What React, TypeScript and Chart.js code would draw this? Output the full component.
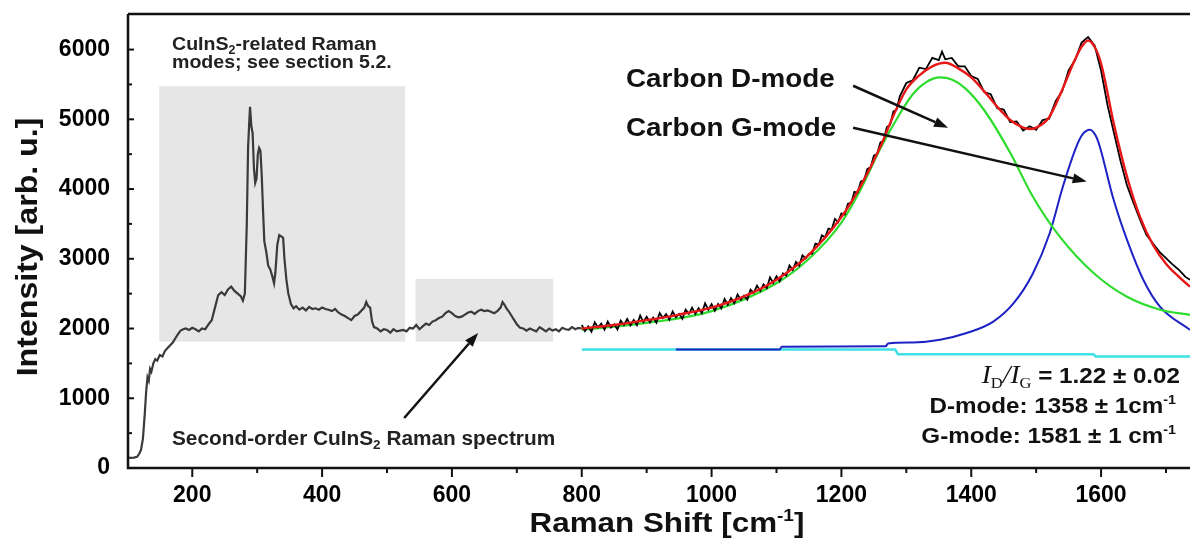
import React, { useEffect, useRef } from 'react';
import { Chart, registerables } from 'chart.js';

Chart.register(...registerables);

// ---------- axes ----------
const X_MIN = 101;
const X_MAX = 1737;
const Y_MIN = 0;
const Y_MAX = 6510;
const X_TICKS = [200, 400, 600, 800, 1000, 1200, 1400, 1600];
const X_MINOR = [300, 500, 700, 900, 1100, 1300, 1500, 1700];
const Y_TICKS = [0, 1000, 2000, 3000, 4000, 5000, 6000];
const Y_MINOR = [500, 1500, 2500, 3500, 4500, 5500];

// ---------- measured spectrum, low-wavenumber part (grey) ----------
const LOW_X = [100, 105, 110, 115, 118, 121, 124, 127, 129, 131,
  133, 135, 137, 140, 143, 146, 150, 154, 158, 162,
  166, 170, 174, 178, 182, 186, 190, 195, 200, 205,
  210, 215, 220, 225, 230, 235, 240, 245, 250, 255,
  260, 265, 270, 275, 278, 281, 284, 286, 288, 289,
  291, 293, 295, 297, 299, 301, 303, 305, 307, 309,
  311, 314, 317, 320, 323, 326, 328, 331, 334, 337,
  340, 342, 345, 348, 352, 356, 360, 365, 370, 375,
  380, 385, 390, 395, 400, 405, 410, 415, 420, 425,
  430, 435, 440, 445, 450, 455, 460, 465, 468, 471,
  474, 477, 480, 485, 490, 495, 500, 505, 510, 515,
  520, 525, 530, 535, 540, 545, 550, 555, 560, 565,
  570, 575, 580, 585, 590, 595, 600, 605, 610, 615,
  620, 625, 630, 635, 640, 645, 650, 655, 660, 665,
  670, 675, 678, 681, 684, 688, 692, 696, 700, 705,
  710, 715, 720, 725, 730, 735, 740, 745, 750, 755,
  760, 765, 770, 775, 780, 785, 790, 795, 800];
const LOW_Y = [150, 145, 150, 160, 200, 260, 420, 800, 1100, 1300,
  1250, 1420, 1380, 1500, 1560, 1540, 1620, 1600, 1680, 1720,
  1760, 1800, 1860, 1920, 1970, 1990, 2000, 1980, 2010, 1990,
  1960, 2000, 1990, 2060, 2120, 2300, 2480, 2520, 2480, 2560,
  2600, 2540, 2500, 2460, 2400, 2500, 3500, 4600, 5000, 5180,
  4900, 4800, 4300, 4090, 4150, 4500, 4590, 4550, 4200, 3700,
  3250, 3100, 2900, 2850, 2760, 2650, 2800, 3200, 3340, 3320,
  3300, 3000, 2700, 2500, 2350, 2290, 2320, 2270, 2300, 2260,
  2310, 2280, 2290, 2270, 2300, 2280, 2270, 2250, 2280, 2230,
  2200, 2180, 2150, 2120, 2180, 2200, 2250, 2300, 2380, 2320,
  2300, 2100, 2020, 2000, 1960, 1990, 1980, 1940, 1990, 1960,
  1970, 1980, 1960, 2010, 2000, 2050, 1990, 2030, 2070, 2050,
  2100, 2120, 2150, 2170, 2220, 2250, 2220, 2180, 2160, 2170,
  2200, 2230, 2240, 2210, 2250, 2270, 2250, 2260, 2240, 2220,
  2250, 2300, 2380, 2340, 2290, 2240, 2180, 2120, 2060, 2010,
  2000, 1970, 2000, 1980, 1960, 2020, 1990, 1960, 2000, 1970,
  1990, 1960, 2010, 1990, 1980, 2020, 1990, 2010, 2000];

// ---------- measured spectrum, carbon region (black) ----------
const SPEC_X = [800, 805, 810, 815, 820, 825, 830, 835, 840, 845,
  850, 855, 860, 865, 870, 875, 880, 885, 890, 895,
  900, 905, 910, 915, 920, 925, 930, 935, 940, 945,
  950, 955, 960, 965, 970, 975, 980, 985, 990, 995,
  1000, 1005, 1010, 1015, 1020, 1025, 1030, 1035, 1040, 1045,
  1050, 1055, 1060, 1065, 1070, 1075, 1080, 1085, 1090, 1095,
  1100, 1105, 1110, 1115, 1120, 1125, 1130, 1135, 1140, 1145,
  1150, 1155, 1160, 1165, 1170, 1175, 1180, 1185, 1190, 1195,
  1200, 1205, 1210, 1215, 1220, 1225, 1230, 1235, 1240, 1245,
  1250, 1255, 1260, 1265, 1270, 1275, 1280, 1285, 1290,
  1300, 1310, 1320, 1330, 1340, 1350, 1355,
  1360, 1370, 1380, 1390, 1400, 1410, 1420, 1430, 1440, 1450,
  1460, 1470, 1480, 1490, 1500, 1510, 1520, 1530, 1540, 1550,
  1560, 1570, 1580, 1590, 1600, 1610, 1620, 1630, 1640, 1650,
  1660, 1670, 1680, 1690, 1700, 1710, 1720, 1730, 1737];
const SPEC_Y = [2050, 1965, 2030, 1955, 2090, 2015, 2070, 1985, 2100, 2015,
  2060, 1987, 2114, 2051, 2138, 2045, 2122, 2049, 2186, 2093,
  2170, 2088, 2156, 2084, 2222, 2150, 2208, 2126, 2244, 2162,
  2210, 2140, 2270, 2210, 2300, 2210, 2290, 2220, 2360, 2270,
  2350, 2256, 2352, 2288, 2424, 2340, 2436, 2362, 2488, 2414,
  2470, 2414, 2558, 2512, 2616, 2540, 2634, 2578, 2732, 2656,
  2750, 2676, 2792, 2758, 2904, 2840, 2956, 2902, 3048, 3004,
  3070, 3074, 3218, 3202, 3336, 3310, 3434, 3418, 3572, 3526,
  3650, 3635, 3790, 3800, 3960, 3950, 4110, 4125, 4290, 4310,
  4480, 4502, 4665, 4697, 4890, 4920, 5110, 5140, 5330,
  5520, 5560, 5740, 5720, 5880, 5850, 5970,
  5860, 5880, 5760, 5760, 5620, 5580, 5390, 5360, 5160, 5140,
  4960, 4970, 4840, 4900, 4850, 4990, 5010, 5260, 5400, 5700,
  5850, 6100, 6180, 6060, 5700, 5200, 4800, 4400, 4050, 3800,
  3560, 3340, 3220, 3100, 3010, 2920, 2840, 2740, 2700];

// ---------- total fit (red) ----------
const FIT_X = [800, 850, 900, 950, 1000, 1050, 1100, 1150, 1200, 1230, 1260, 1280, 1300, 1320, 1340, 1360,
  1380, 1400, 1420, 1440, 1460, 1480, 1490, 1500, 1520, 1540, 1560, 1570, 1580, 1590, 1600, 1620,
  1640, 1660, 1680, 1700, 1720, 1737];
const FIT_Y = [2000, 2050, 2120, 2200, 2300, 2460, 2700, 3060, 3600, 4050, 4605, 5050, 5430, 5630, 5760, 5810,
  5730, 5600, 5400, 5180, 4990, 4880, 4860, 4880, 5030, 5420, 5860, 6040, 6130, 6040, 5800, 4920,
  4175, 3600, 3200, 2930, 2740, 2600];

// ---------- D-mode component (green) ----------
const D_X = [800, 900, 1000, 1100, 1150, 1200, 1230, 1260, 1290, 1310, 1330, 1352, 1370, 1390, 1420, 1460,
  1495, 1537, 1588, 1640, 1691, 1737];
const D_Y = [1980, 2080, 2250, 2650, 3000, 3520, 4000, 4580, 5080, 5360, 5530, 5600, 5570, 5450, 5130, 4520,
  3890, 3310, 2800, 2455, 2270, 2195];

// ---------- G-mode component (blue) ----------
const G_X = [945, 1105, 1108, 1268, 1272, 1310, 1352, 1393, 1434, 1465, 1495, 1521, 1541, 1562, 1572, 1583,
  1592, 1598, 1618, 1640, 1665, 1691, 1737];
const G_Y = [1700, 1700, 1740, 1745, 1785, 1800, 1840, 1935, 2100, 2360, 2790, 3370, 4030, 4610, 4790, 4850,
  4760, 4610, 3890, 3270, 2700, 2310, 1980];

// ---------- baseline (cyan) ----------
const BASE_X = [800, 1283, 1287, 1588, 1592, 1737];
const BASE_Y = [1700, 1700, 1632, 1632, 1600, 1600];

// ---------- annotations (data coordinates) ----------
const BOX_A = { x0: 149, x1: 528, y0: 1812, y1: 5474 };
const BOX_B = { x0: 544, x1: 756, y0: 1812, y1: 2712 };
const ARROW_2ND = { x0: 526.5, y0: 717, x1: 640.4, y1: 1937 };
const ARROW_D = { x0: 1218, y0: 5481, x1: 1364.3, y1: 4878 };
const ARROW_G = { x0: 1218, y0: 4878, x1: 1577.9, y1: 4108 };

const SANS = '"Liberation Sans", Arial, Helvetica, sans-serif';
const SERIF = '"Liberation Serif", "Times New Roman", serif';

type Seg = { t: string; size: number; weight?: string; style?: string; family?: string; dy?: number };

function fontOf(s: Seg) {
  return `${s.style || 'normal'} ${s.weight || 'bold'} ${s.size}px ${s.family || SANS}`;
}

function drawRich(ctx: CanvasRenderingContext2D, segs: Seg[], x: number, y: number,
  align: 'left' | 'right' | 'center', sx = 1, rot = 0, color = '#111') {
  ctx.save();
  ctx.translate(x, y);
  if (rot) ctx.rotate(rot);
  ctx.scale(sx, 1);
  ctx.textBaseline = 'alphabetic';
  ctx.textAlign = 'left';
  ctx.fillStyle = color;
  let total = 0;
  const ws = segs.map((s) => {
    ctx.font = fontOf(s);
    const w = ctx.measureText(s.t).width;
    total += w;
    return w;
  });
  let cx = align === 'left' ? 0 : align === 'right' ? -total : -total / 2;
  segs.forEach((s, i) => {
    ctx.font = fontOf(s);
    ctx.fillText(s.t, cx, s.dy || 0);
    cx += ws[i];
  });
  ctx.restore();
}

function drawArrow(ctx: CanvasRenderingContext2D, x0: number, y0: number, x1: number, y1: number) {
  const head = 14;
  const half = 5;
  const a = Math.atan2(y1 - y0, x1 - x0);
  const bx = x1 - head * Math.cos(a);
  const by = y1 - head * Math.sin(a);
  ctx.beginPath();
  ctx.moveTo(x0, y0);
  ctx.lineTo(bx, by);
  ctx.stroke();
  ctx.beginPath();
  ctx.moveTo(x1, y1);
  ctx.lineTo(bx + half * Math.sin(a), by - half * Math.cos(a));
  ctx.lineTo(bx - half * Math.sin(a), by + half * Math.cos(a));
  ctx.closePath();
  ctx.fill();
}

const decor = {
  id: 'decor',
  beforeDatasetsDraw(chart: any) {
    const { ctx, scales } = chart;
    const x = scales.x;
    const y = scales.y;
    ctx.save();
    ctx.fillStyle = '#e6e6e6';
    [BOX_A, BOX_B].forEach((b) => {
      const px0 = x.getPixelForValue(b.x0);
      const px1 = x.getPixelForValue(b.x1);
      const py0 = y.getPixelForValue(b.y1);
      const py1 = y.getPixelForValue(b.y0);
      ctx.fillRect(px0, py0, px1 - px0, py1 - py0);
    });
    ctx.restore();
  },
  afterDraw(chart: any) {
    const { ctx, chartArea: a, scales, width } = chart;
    const x = scales.x;
    const y = scales.y;
    ctx.save();
    ctx.strokeStyle = '#111';
    ctx.fillStyle = '#111';
    ctx.lineCap = 'butt';
    // frame: left, bottom, top
    ctx.lineWidth = 2.5;
    ctx.beginPath();
    ctx.moveTo(a.left, a.top);
    ctx.lineTo(a.left, a.bottom);
    ctx.lineTo(width, a.bottom);
    ctx.moveTo(a.left, a.top);
    ctx.lineTo(width, a.top);
    ctx.stroke();
    // y ticks (inward)
    ctx.lineWidth = 2;
    Y_TICKS.forEach((v) => {
      const py = y.getPixelForValue(v);
      ctx.beginPath(); ctx.moveTo(a.left, py); ctx.lineTo(a.left + 6, py); ctx.stroke();
    });
    Y_MINOR.forEach((v) => {
      const py = y.getPixelForValue(v);
      ctx.beginPath(); ctx.moveTo(a.left, py); ctx.lineTo(a.left + 4, py); ctx.stroke();
    });
    // x ticks (outward)
    X_TICKS.forEach((v) => {
      const px = x.getPixelForValue(v);
      ctx.beginPath(); ctx.moveTo(px, a.bottom); ctx.lineTo(px, a.bottom + 9); ctx.stroke();
    });
    X_MINOR.forEach((v) => {
      const px = x.getPixelForValue(v);
      ctx.beginPath(); ctx.moveTo(px, a.bottom); ctx.lineTo(px, a.bottom + 5); ctx.stroke();
    });
    // arrows
    ctx.lineWidth = 2.5;
    [ARROW_2ND, ARROW_D, ARROW_G].forEach((ar) => {
      drawArrow(ctx, x.getPixelForValue(ar.x0), y.getPixelForValue(ar.y0),
        x.getPixelForValue(ar.x1), y.getPixelForValue(ar.y1));
    });
    ctx.restore();

    // axis titles
    drawRich(ctx, [{ t: 'Intensity [arb. u.]', size: 30 }], 37, 247, 'center', 1.07, -Math.PI / 2);
    drawRich(ctx, [
      { t: 'Raman Shift [cm', size: 28 },
      { t: '-1', size: 17, dy: -11 },
      { t: ']', size: 28 },
    ], 667, 532, 'center', 1.12);

    // annotations
    drawRich(ctx, [
      { t: 'CuInS', size: 19 },
      { t: '2', size: 12, dy: 4 },
      { t: '-related Raman', size: 19 },
    ], 172, 50, 'left', 1.03, 0, '#222');
    drawRich(ctx, [{ t: 'modes; see section 5.2.', size: 19 }], 172, 68, 'left', 1.03, 0, '#222');
    drawRich(ctx, [
      { t: 'Second-order CuInS', size: 20 },
      { t: '2', size: 13, dy: 4 },
      { t: ' Raman spectrum', size: 20 },
    ], 172, 445, 'left', 1.04, 0, '#222');
    drawRich(ctx, [{ t: 'Carbon D-mode', size: 26 }], 626, 87, 'left', 1.07);
    drawRich(ctx, [{ t: 'Carbon G-mode', size: 26 }], 626, 136, 'left', 1.07);

    drawRich(ctx, [
      { t: 'I', size: 25, style: 'italic', weight: 'normal', family: SERIF },
      { t: 'D', size: 15, weight: 'normal', family: SERIF, dy: 5 },
      { t: '/', size: 25, style: 'italic', weight: 'normal', family: SERIF },
      { t: 'I', size: 25, style: 'italic', weight: 'normal', family: SERIF },
      { t: 'G', size: 15, weight: 'normal', family: SERIF, dy: 5 },
      { t: ' = 1.22 ± 0.02', size: 22 },
    ], 1180, 383, 'right', 1.1);
    drawRich(ctx, [
      { t: 'D-mode: 1358 ± 1cm', size: 22 },
      { t: '-1', size: 13, dy: -9 },
    ], 1176, 413, 'right', 1.1);
    drawRich(ctx, [
      { t: 'G-mode: 1581 ± 1 cm', size: 22 },
      { t: '-1', size: 13, dy: -9 },
    ], 1176, 443, 'right', 1.1);
  },
};

function pts(xs: number[], ys: number[]) {
  return xs.map((v, i) => ({ x: v, y: ys[i] }));
}

export default function App() {
  const ref = useRef<HTMLCanvasElement | null>(null);

  useEffect(() => {
    document.body.style.margin = '0';
    document.body.style.overflow = 'hidden';
    const canvas = ref.current;
    if (!canvas) return;
    const tickFont = { family: SANS, size: 23, weight: 'bold' as const };
    const chart = new Chart(canvas, {
      type: 'line',
      data: {
        datasets: [
          { label: 'Fit', data: pts(FIT_X, FIT_Y), borderColor: '#e81818', borderWidth: 2.4, cubicInterpolationMode: 'monotone', order: 0 },
          { label: 'Spectrum', data: pts(SPEC_X, SPEC_Y), borderColor: '#000000', borderWidth: 1.8, order: 1 },
          { label: 'D-mode', data: pts(D_X, D_Y), borderColor: '#2edc2e', borderWidth: 2.2, cubicInterpolationMode: 'monotone', order: 2 },
          { label: 'G-mode', data: pts(G_X, G_Y), borderColor: '#1c22c4', borderWidth: 2, cubicInterpolationMode: 'monotone', order: 3 },
          { label: 'Baseline', data: pts(BASE_X, BASE_Y), borderColor: '#3fe0e6', borderWidth: 2.5, order: 4 },
          { label: 'CuInS2', data: pts(LOW_X, LOW_Y), borderColor: '#3a3a3a', borderWidth: 2.2, order: 5 },
        ] as any,
      },
      options: {
        animation: false,
        responsive: false,
        maintainAspectRatio: false,
        layout: { padding: { top: 14, left: 0, right: 0, bottom: 0 } },
        elements: { point: { radius: 0 }, line: { tension: 0 } },
        plugins: { legend: { display: false }, tooltip: { enabled: false }, title: { display: false } },
        scales: {
          x: {
            type: 'linear',
            min: X_MIN,
            max: X_MAX,
            border: { display: false },
            grid: { display: false, drawTicks: false },
            ticks: { font: tickFont, color: '#000', padding: 14, maxRotation: 0, autoSkip: false, callback: (v: any) => String(v) },
            afterBuildTicks: (s: any) => { s.ticks = X_TICKS.map((v) => ({ value: v })); },
            afterFit: (s: any) => { s.height = 76; s.paddingLeft = 0; s.paddingRight = 0; },
          },
          y: {
            type: 'linear',
            min: Y_MIN,
            max: Y_MAX,
            border: { display: false },
            grid: { display: false, drawTicks: false },
            ticks: { font: tickFont, color: '#000', padding: 18, callback: (v: any) => String(v) },
            afterBuildTicks: (s: any) => { s.ticks = Y_TICKS.map((v) => ({ value: v })); },
            afterFit: (s: any) => { s.width = 128; s.paddingTop = 0; s.paddingBottom = 0; },
          },
        },
      } as any,
      plugins: [decor],
    });
    return () => chart.destroy();
  }, []);

  return (
    <div style={{ position: 'absolute', left: 0, top: 0, width: 1190, height: 544, background: '#fff' }}>
      <canvas ref={ref} width={1190} height={544} style={{ display: 'block', width: 1190, height: 544 }} />
    </div>
  );
}
